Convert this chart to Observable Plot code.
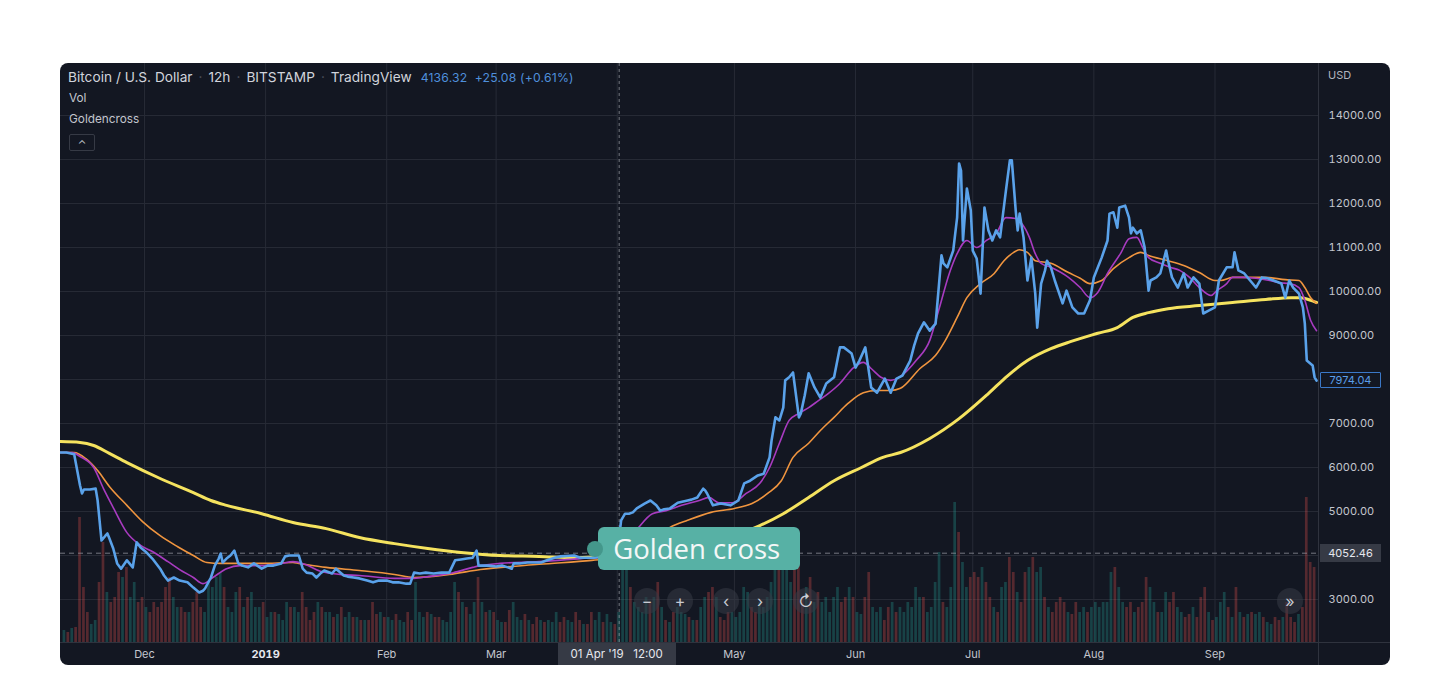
<!DOCTYPE html>
<html><head><meta charset="utf-8">
<script src="https://cdn.jsdelivr.net/npm/d3@7"></script>
<script src="https://cdn.jsdelivr.net/npm/@observablehq/plot@0.6"></script>
<style>
body{margin:0;background:#fff;width:1450px;height:693px;overflow:hidden;font-family:Inter,"Noto Sans",sans-serif}
#panel{position:absolute;left:60px;top:63px;width:1330px;height:602px;border-radius:8px;overflow:hidden;background:#131722}
#panel svg{position:absolute;left:0;top:0}
.o{position:absolute;white-space:nowrap}
.btn{position:absolute;width:26px;height:26px;border-radius:13px;background:rgba(54,58,69,0.55);color:#c8cbd3;font-size:16px;line-height:26px;text-align:center}
</style></head><body><div id="panel"></div>
<script>
// ---- price (close) series, 12h candles ----
const priceDates = ["2018-11-09T12","2018-11-11T00","2018-11-13T00","2018-11-14T12","2018-11-15T00","2018-11-15T12","2018-11-17T00","2018-11-18T12","2018-11-19T00","2018-11-20T00","2018-11-21T00","2018-11-21T12","2018-11-22T00","2018-11-23T00","2018-11-24T00","2018-11-25T00","2018-11-26T12","2018-11-28T00","2018-11-29T00","2018-11-30T00","2018-12-01T00","2018-12-01T12","2018-12-03T00","2018-12-05T00","2018-12-06T00","2018-12-07T00","2018-12-08T12","2018-12-10T00","2018-12-12T00","2018-12-13T12","2018-12-15T00","2018-12-16T00","2018-12-16T12","2018-12-18T00","2018-12-19T00","2018-12-20T00","2018-12-20T12","2018-12-21T00","2018-12-22T00","2018-12-23T00","2018-12-24T00","2018-12-25T00","2018-12-26T00","2018-12-27T12","2018-12-29T00","2018-12-31T00","2019-01-01T12","2019-01-03T00","2019-01-05T00","2019-01-06T00","2019-01-07T00","2019-01-09T12","2019-01-10T12","2019-01-11T12","2019-01-13T00","2019-01-14T00","2019-01-15T00","2019-01-16T00","2019-01-18T00","2019-01-19T00","2019-01-21T00","2019-01-22T00","2019-01-23T12","2019-01-25T00","2019-01-27T00","2019-01-28T12","2019-01-30T00","2019-02-01T00","2019-02-02T12","2019-02-04T00","2019-02-06T00","2019-02-07T00","2019-02-08T00","2019-02-09T12","2019-02-11T00","2019-02-13T00","2019-02-15T00","2019-02-17T00","2019-02-18T12","2019-02-20T00","2019-02-21T12","2019-02-23T00","2019-02-24T00","2019-02-24T12","2019-02-27T00","2019-03-01T00","2019-03-02T12","2019-03-04T00","2019-03-05T00","2019-03-05T12","2019-03-07T00","2019-03-09T00","2019-03-11T00","2019-03-12T12","2019-03-14T00","2019-03-16T00","2019-03-17T12","2019-03-21T00","2019-03-22T12","2019-03-26T00","2019-03-28T00","2019-03-30T00","2019-03-31T00","2019-04-01T00","2019-04-02T00","2019-04-03T00","2019-04-04T00","2019-04-05T00","2019-04-06T00","2019-04-08T00","2019-04-09T12","2019-04-11T00","2019-04-12T00","2019-04-13T00","2019-04-14T12","2019-04-16T12","2019-04-19T00","2019-04-20T00","2019-04-21T12","2019-04-23T00","2019-04-23T12","2019-04-24T00","2019-04-25T12","2019-04-27T12","2019-04-30T00","2019-05-02T00","2019-05-03T12","2019-05-05T00","2019-05-07T00","2019-05-08T12","2019-05-10T00","2019-05-10T12","2019-05-11T12","2019-05-12T12","2019-05-13T12","2019-05-14T00","2019-05-15T00","2019-05-16T00","2019-05-17T12","2019-05-18T00","2019-05-19T00","2019-05-20T00","2019-05-21T12","2019-05-23T00","2019-05-24T12","2019-05-26T12","2019-05-28T00","2019-05-29T00","2019-05-31T00","2019-06-01T00","2019-06-02T00","2019-06-03T12","2019-06-05T00","2019-06-06T12","2019-06-08T12","2019-06-10T00","2019-06-11T12","2019-06-13T00","2019-06-15T00","2019-06-16T00","2019-06-17T00","2019-06-18T12","2019-06-20T00","2019-06-21T12","2019-06-23T00","2019-06-23T12","2019-06-24T12","2019-06-26T00","2019-06-27T00","2019-06-27T12","2019-06-28T00","2019-06-28T12","2019-06-29T12","2019-06-30T12","2019-07-01T00","2019-07-02T00","2019-07-03T00","2019-07-04T00","2019-07-05T00","2019-07-06T00","2019-07-07T00","2019-07-08T00","2019-07-09T12","2019-07-10T12","2019-07-11T00","2019-07-12T00","2019-07-12T12","2019-07-13T00","2019-07-14T00","2019-07-15T00","2019-07-16T00","2019-07-17T00","2019-07-17T12","2019-07-18T12","2019-07-19T12","2019-07-20T00","2019-07-21T00","2019-07-22T00","2019-07-24T00","2019-07-25T00","2019-07-26T12","2019-07-28T00","2019-07-29T12","2019-07-31T00","2019-08-01T00","2019-08-03T00","2019-08-04T12","2019-08-05T00","2019-08-06T00","2019-08-07T00","2019-08-07T12","2019-08-09T00","2019-08-10T00","2019-08-10T12","2019-08-11T00","2019-08-12T00","2019-08-13T00","2019-08-14T00","2019-08-15T00","2019-08-15T12","2019-08-17T00","2019-08-18T00","2019-08-19T12","2019-08-20T00","2019-08-21T00","2019-08-22T12","2019-08-24T00","2019-08-25T00","2019-08-26T12","2019-08-28T00","2019-08-29T00","2019-08-30T12","2019-09-01T00","2019-09-02T00","2019-09-04T00","2019-09-05T12","2019-09-06T00","2019-09-07T00","2019-09-08T12","2019-09-10T00","2019-09-11T12","2019-09-13T00","2019-09-14T12","2019-09-16T00","2019-09-18T00","2019-09-19T00","2019-09-20T00","2019-09-21T00","2019-09-22T12","2019-09-23T12","2019-09-24T00","2019-09-24T12","2019-09-26T00","2019-09-26T12","2019-09-27T00"];
const priceValues = [6340,6340,6300,5590,5410,5500,5500,5520,5250,4340,4450,4500,4390,4160,3820,3700,3890,3730,4300,4180,4110,4070,3930,3700,3545,3430,3500,3430,3390,3270,3160,3200,3250,3500,3770,3930,4045,3840,3930,4000,4110,3820,3770,3730,3820,3700,3770,3770,3820,3980,4000,4000,3700,3610,3590,3500,3590,3660,3590,3700,3545,3520,3500,3480,3430,3390,3430,3430,3390,3390,3360,3360,3610,3590,3610,3590,3610,3610,3890,3910,3930,3950,4110,3770,3770,3750,3770,3730,3700,3820,3820,3840,3840,3840,3890,3950,3980,4000,3950,3950,3980,3950,4000,4045,4800,4950,4950,4980,5070,5180,5250,5140,5020,5050,5070,5200,5250,5270,5320,5520,5480,5410,5140,5180,5140,5250,5640,5700,5820,5860,6230,6610,7140,7070,7360,7980,8050,8160,7140,7230,7640,8140,7820,7590,7910,8050,8730,8730,8590,8270,8430,8730,7820,7700,8020,7700,8020,8090,8430,8770,9050,9300,9110,9270,10820,10640,10550,10930,11680,12910,12750,11160,12340,11840,10930,10750,9950,11910,11390,11160,11390,11230,12300,12980,12980,11840,11390,11770,11230,10250,10770,9950,9180,10180,10480,10700,10550,10250,9730,10020,9640,9500,9500,9800,10320,10770,11160,11770,11800,11450,11910,11950,11680,11320,11450,11320,11390,11000,10020,10250,10320,10410,10930,10700,10320,10090,10410,10090,10320,10180,9500,9570,9640,10250,10550,10550,10890,10480,10410,10250,10090,10320,10300,10250,10180,9860,10250,10090,9950,9640,9270,8430,8320,8050,7974.04];

// ---- Goldencross moving averages (fast = purple, mid = orange, slow = yellow) ----
const fastDates = ["2018-11-09T12","2018-11-12T12","2018-11-14T12","2018-11-18T00","2018-11-20T12","2018-11-23T00","2018-11-26T12","2018-11-30T00","2018-12-03T00","2018-12-07T00","2018-12-10T00","2018-12-13T12","2018-12-16T00","2018-12-18T12","2018-12-22T00","2018-12-25T12","2018-12-31T00","2019-01-05T00","2019-01-08T00","2019-01-11T00","2019-01-15T00","2019-01-20T00","2019-01-25T00","2019-02-03T00","2019-02-08T00","2019-02-11T12","2019-02-18T00","2019-02-23T00","2019-02-25T00","2019-03-02T00","2019-03-12T00","2019-03-22T12","2019-03-30T00","2019-04-02T00","2019-04-04T00","2019-04-06T12","2019-04-10T00","2019-04-13T12","2019-04-17T12","2019-04-22T00","2019-04-24T12","2019-04-27T00","2019-04-30T12","2019-05-04T00","2019-05-07T12","2019-05-10T00","2019-05-12T12","2019-05-15T00","2019-05-17T12","2019-05-20T00","2019-05-22T12","2019-05-25T00","2019-05-28T00","2019-05-31T12","2019-06-03T00","2019-06-05T00","2019-06-07T12","2019-06-10T00","2019-06-12T12","2019-06-16T12","2019-06-20T00","2019-06-22T12","2019-06-25T00","2019-06-27T00","2019-06-29T12","2019-07-02T00","2019-07-04T12","2019-07-07T00","2019-07-09T12","2019-07-12T00","2019-07-13T12","2019-07-15T12","2019-07-17T00","2019-07-18T12","2019-07-21T00","2019-07-25T12","2019-07-28T12","2019-07-31T00","2019-08-02T00","2019-08-04T12","2019-08-08T00","2019-08-10T00","2019-08-12T00","2019-08-13T12","2019-08-15T00","2019-08-18T00","2019-08-20T12","2019-08-23T00","2019-08-25T12","2019-08-28T00","2019-08-31T00","2019-09-01T12","2019-09-04T00","2019-09-05T12","2019-09-08T00","2019-09-11T12","2019-09-15T00","2019-09-17T12","2019-09-20T00","2019-09-22T12","2019-09-24T00","2019-09-25T12","2019-09-27T00"];
const fastValues = [6340,6340,6250,6000,5520,5090,4520,4230,4090,3860,3680,3500,3360,3500,3700,3770,3770,3820,3860,3800,3640,3570,3545,3480,3480,3520,3610,3730,3770,3820,3860,3930,3980,4045,4340,4640,4950,5020,5140,5250,5320,5200,5200,5410,5640,6000,6550,7070,7230,7360,7520,7680,7910,8270,8390,8250,8050,7980,8070,8430,8890,9640,10410,10860,11160,11000,11160,11320,11680,11660,11550,11230,10860,10640,10550,10320,10090,9860,9980,10410,10890,11200,11230,11000,10770,10640,10550,10480,10320,10090,9910,10020,10180,10320,10320,10300,10250,10200,10180,10090,9800,9340,9110];
const midDates = ["2018-11-09T12","2018-11-13T00","2018-11-16T00","2018-11-19T00","2018-11-22T00","2018-11-26T12","2018-11-30T12","2018-12-05T00","2018-12-09T12","2018-12-13T12","2018-12-17T00","2018-12-20T12","2018-12-31T00","2019-01-08T00","2019-01-09T12","2019-01-16T12","2019-01-25T00","2019-02-03T00","2019-02-08T00","2019-02-17T00","2019-02-25T00","2019-03-12T00","2019-03-25T12","2019-04-01T00","2019-04-07T00","2019-04-11T00","2019-04-14T12","2019-04-19T00","2019-04-25T00","2019-05-01T00","2019-05-05T12","2019-05-09T12","2019-05-13T00","2019-05-16T00","2019-05-20T00","2019-05-23T00","2019-05-26T12","2019-05-30T00","2019-06-03T00","2019-06-06T12","2019-06-10T00","2019-06-12T12","2019-06-17T12","2019-06-21T12","2019-06-24T00","2019-06-27T00","2019-06-29T12","2019-07-03T00","2019-07-06T12","2019-07-09T00","2019-07-11T12","2019-07-13T00","2019-07-15T00","2019-07-17T00","2019-07-21T00","2019-07-25T12","2019-07-28T12","2019-07-31T00","2019-08-03T00","2019-08-06T00","2019-08-10T00","2019-08-13T00","2019-08-15T00","2019-08-20T00","2019-08-24T00","2019-08-28T00","2019-09-01T00","2019-09-02T12","2019-09-05T12","2019-09-10T00","2019-09-14T00","2019-09-19T00","2019-09-22T12","2019-09-24T00","2019-09-25T12","2019-09-27T00"];
const midValues = [6340,6340,6200,5930,5570,5140,4770,4450,4200,4000,3840,3820,3820,3840,3820,3730,3660,3570,3500,3570,3680,3800,3890,3950,4230,4450,4640,4800,4980,5070,5180,5410,5700,6230,6550,6840,7140,7450,7700,7750,7750,7800,8250,8550,8890,9410,9860,10180,10410,10700,10890,10950,10890,10700,10640,10430,10300,10180,10250,10520,10770,10890,10820,10700,10590,10430,10250,10250,10320,10320,10320,10270,10250,10090,9860,9730];
const slowDates = ["2018-11-09T12","2018-11-14T12","2018-11-18T00","2018-11-22T00","2018-11-26T12","2018-12-05T00","2018-12-13T12","2018-12-18T00","2018-12-22T00","2018-12-31T00","2019-01-08T00","2019-01-16T12","2019-01-25T00","2019-02-03T00","2019-02-11T12","2019-02-20T00","2019-03-02T00","2019-03-12T00","2019-03-21T00","2019-03-28T00","2019-04-09T12","2019-04-22T00","2019-05-02T12","2019-05-07T12","2019-05-13T12","2019-05-20T00","2019-05-26T12","2019-06-02T12","2019-06-08T00","2019-06-12T12","2019-06-20T00","2019-06-27T12","2019-07-05T00","2019-07-10T00","2019-07-15T00","2019-07-21T00","2019-07-26T00","2019-08-02T00","2019-08-07T00","2019-08-11T00","2019-08-15T00","2019-08-20T00","2019-08-28T00","2019-09-05T12","2019-09-14T00","2019-09-20T12","2019-09-23T00","2019-09-25T12","2019-09-27T00"];
const slowValues = [6590,6570,6500,6320,6110,5750,5430,5250,5140,4950,4750,4610,4410,4270,4160,4070,4000,3980,3950,3980,4045,4230,4500,4680,4950,5320,5700,6000,6230,6340,6660,7110,7680,8090,8430,8700,8860,9050,9180,9410,9520,9610,9680,9750,9820,9860,9860,9800,9750];

// ---- volume, one bar per day (relative units), g = up day, r = down day ----
const volStart = "2018-11-10";
const volNov = [12,10,14,15,125,55,30,18,22,60,100,50,40,45,70,65,75,45,60,40,45];
const volDec = [35,30,40,35,40,55,65,45,35,35,30,30,40,50,35,30,60,55,65,70,55,35,30,50,55,35,45,50,35,35,40];
const volJan = [25,30,30,28,22,40,35,35,30,50,35,22,30,40,35,30,30,25,28,35,25,30,25,25,22,22,22,40,28,30,25];
const volFeb = [25,22,28,22,20,30,22,60,30,25,30,28,25,25,22,20,30,60,50,40,35,28,40,65,40,30,32,30];
const volMar = [22,20,20,32,40,25,22,28,22,18,25,22,20,22,20,30,20,25,22,20,30,22,18,18,30,22,30,20,28,20,18];
const volApr = [30,90,80,55,40,35,30,45,40,45,60,35,22,20,30,35,30,28,25,22,22,35,45,50,55,45,25,22,30,30];
const volMay = [25,30,55,50,35,30,40,35,45,60,80,75,85,90,60,95,100,45,55,65,40,50,40,45,30,45,55,40,45,55,45];
const volJun = [30,28,45,70,35,30,35,22,35,40,30,35,30,40,35,55,45,45,30,35,60,90,40,35,55,140,110,80,55,65];
const volJul = [70,65,75,60,45,35,30,55,60,85,70,50,40,70,75,85,70,75,45,35,30,40,45,40,30,28,40,30,35,30,35];
const volAug = [40,35,40,40,70,75,55,40,35,40,30,35,40,65,55,40,30,30,50,40,50,35,30,25,28,35,25,45,55,30,22];
const volSep = [25,40,50,35,25,55,30,25,28,30,28,30,25,20,18,25,22,25,40,25,20,28,35,145,80,75];
const dirNov = "grgrrrrggrrgrrrgrggrr";
const dirDec = "grrrrrrggrrgrrrgggggrgggrgrgggr";
const dirJan = "ggrgggrggrrrrgrggrgrggrgrgrrrgr";
const dirFeb = "ggrggrrgggrgrrggggrgrggrgrgr";
const dirMar = "ggrrgggrgrrgrgggrrggrrgrrggrggr";
const dirApr = "gggrggggrgrgrgrgggrgrggrrgrrrg";
const dirMay = "ggggrrgggggrgggrrrgrgrgggggrrgr";
const dirJun = "ggrrgggrrgrggggggrggggrgggrggr";
const dirJul = "rrgrrgrggrrgrrgrggrgrrrrgrrggrg";
const dirAug = "gggggrggrrgrrrggrggrrggrrgrrrgr";
const dirSep = "gggrgrgrgrggrggrrgrrrgrrrr";

// ---- axes / annotations ----
const monthTicks = ["2018-12-01","2019-01-01","2019-02-01","2019-03-01","2019-04-01","2019-05-01","2019-06-01","2019-07-01","2019-08-01","2019-09-01"];
const monthLabels = ["Dec","2019","Feb","Mar","","May","Jun","Jul","Aug","Sep"];
const gridLevels = [3000,4000,5000,6000,7000,8000,9000,10000,11000,12000,13000,14000];
const tickLevels = [3000,5000,6000,7000,9000,10000,11000,12000,13000,14000];
const lastPrice = 7974.04;
const markedPrice = 4052.46;
const crosshair = "2019-04-01T12";
const crossLabel = "01 Apr '19   12:00";
const goldenCross = {date: "2019-03-26T12", value: 4136};
const header = ["Bitcoin / U.S. Dollar", "12h", "BITSTAMP", "TradingView"];
const headerQuote = "4136.32  +25.08 (+0.61%)";

// ---- build ----
const P = d3.utcParse("%Y-%m-%dT%H"), D = d3.utcParse("%Y-%m-%d");
const series = (ds, vs) => ds.map((d, i) => ({date: P(d), value: vs[i]}));
const price = series(priceDates, priceValues);
const fast = series(fastDates, fastValues);
const mid = series(midDates, midValues);
const slow = series(slowDates, slowValues);
const vols = [].concat(volNov, volDec, volJan, volFeb, volMar, volApr, volMay, volJun, volJul, volAug, volSep);
const dirs = (dirNov + dirDec + dirJan + dirFeb + dirMar + dirApr + dirMay + dirJun + dirJul + dirAug + dirSep).split("");
const v0 = D(volStart);
const volume = vols.map((v, i) => ({date: d3.utcDay.offset(v0, i), vol: v, dir: dirs[i]}));
const months = monthTicks.map(D);

const W = 1330, H = 602, MR = 72, MB = 23;
const xDomain = [P("2018-11-09T12"), P("2019-09-27T12")];
const yDomain = [2022.7, 15181.8];
const base = {width: W, height: H, marginLeft: 0, marginRight: MR, marginTop: 0, marginBottom: MB,
  style: {background: "transparent", fontFamily: "Inter, 'Noto Sans', sans-serif", overflow: "visible"}};
const GRID = "#272b36";

const gridPlot = Plot.plot({...base,
  x: {type: "utc", domain: xDomain, axis: null}, y: {domain: yDomain, axis: null},
  marks: [
    Plot.gridX(months, {stroke: GRID, strokeOpacity: 1}),
    Plot.gridY(gridLevels, {stroke: GRID, strokeOpacity: 1})
  ]});

const volPlot = Plot.plot({...base,
  x: {type: "utc", domain: xDomain, axis: null}, y: {domain: [0, H - MB], axis: null},
  marks: [
    Plot.rectY(volume.filter(d => d.dir === "g"), {x: "date", y: "vol", interval: "day", fill: "#26a69a", fillOpacity: 0.3, insetLeft: 0.6, insetRight: 0.6}),
    Plot.rectY(volume.filter(d => d.dir === "r"), {x: "date", y: "vol", interval: "day", fill: "#ef5350", fillOpacity: 0.3, insetLeft: 0.6, insetRight: 0.6})
  ]});

const pricePlot = Plot.plot({...base,
  x: {type: "utc", domain: xDomain}, y: {domain: yDomain},
  marks: [
    Plot.ruleY([markedPrice], {stroke: "#9598a1", strokeDasharray: "5,4", strokeOpacity: 0.75}),
    Plot.ruleX([P(crosshair)], {stroke: "#9598a1", strokeDasharray: "3,3", strokeOpacity: 0.75}),
    Plot.line(slow, {x: "date", y: "value", stroke: "#f5e35f", strokeWidth: 3, curve: "monotone-x"}),
    Plot.line(mid, {x: "date", y: "value", stroke: "#f0953f", strokeWidth: 1.6, curve: "monotone-x"}),
    Plot.line(fast, {x: "date", y: "value", stroke: "#a83bc0", strokeWidth: 1.6, curve: "monotone-x"}),
    Plot.line(price, {x: "date", y: "value", stroke: "#5aa2ea", strokeWidth: 2.6, strokeLinejoin: "round"}),
    Plot.axisY(tickLevels, {anchor: "right", tickSize: 0, tickPadding: 10, tickFormat: d => d.toFixed(2), fill: "#c3c6ce", fontSize: 11, label: null}),
    Plot.axisX(months.filter((d, i) => i !== 1 && monthLabels[i]), {tickSize: 0, tickPadding: 8, tickFormat: d => monthLabels[months.findIndex(m => +m === +d)], fill: "#c3c6ce", fontSize: 11, label: null}),
    Plot.axisX([months[1]], {tickSize: 0, tickPadding: 8, tickFormat: () => monthLabels[1], fill: "#e6e8ee", fontSize: 11, fontWeight: "bold", label: null})
  ]});

const panel = document.getElementById("panel");
panel.append(gridPlot, volPlot, pricePlot);
const sx = pricePlot.scale("x"), sy = pricePlot.scale("y");

function el(cls, style, html) {
  const e = document.createElement("div");
  e.className = cls; Object.assign(e.style, style); e.innerHTML = html; panel.appendChild(e); return e;
}
// separators of the price and time scales
el("o", {left: (W - MR) + "px", top: "0px", width: "1px", height: H + "px", background: "#2f333e"}, "");
el("o", {left: "0px", top: (H - MB) + "px", width: W + "px", height: "1px", background: "#2f333e"}, "");

// header legend
const dot = '<span style="color:#50535e;margin:0 6px">·</span>';
el("o", {left: "8px", top: "5px", fontSize: "13.7px", color: "#d1d4dc", lineHeight: "19px"},
  header.join(dot) + '<span style="color:#4f8fdc;font-size:12.2px;margin-left:9px;letter-spacing:0.2px">' + headerQuote.replace("  ", "&nbsp;&nbsp;") + '</span>');
el("o", {left: "9px", top: "28px", fontSize: "11.8px", color: "#c3c6ce"}, "Vol");
el("o", {left: "9px", top: "49px", fontSize: "11.8px", color: "#c3c6ce"}, "Goldencross");
el("o", {left: "9px", top: "71px", width: "24px", height: "15px", border: "1px solid #363a45", borderRadius: "2px", color: "#c3c6ce", fontSize: "11px", textAlign: "center", lineHeight: "19px"}, "&#8963;");
el("o", {left: "1268px", top: "5px", fontSize: "11px", color: "#b2b5be"}, "USD");

// price scale labels
const yl = sy.apply(lastPrice), ym = sy.apply(markedPrice);
el("o", {left: (W - MR + 2) + "px", top: (yl - 8) + "px", width: "59px", height: "14px", border: "1px solid #3b78c8", color: "#5a9ee8", fontSize: "11px", lineHeight: "14px", textAlign: "center", borderRadius: "1px"}, lastPrice.toFixed(2));
el("o", {left: (W - MR + 2) + "px", top: (ym - 9) + "px", width: "61px", height: "18px", background: "#363a45", color: "#e6e8ee", fontSize: "11px", lineHeight: "18px", textAlign: "center"}, markedPrice.toFixed(2));

// crosshair time label
const cx = sx.apply(P(crosshair));
el("o", {left: (cx - 61) + "px", top: (H - MB + 1) + "px", width: "118px", height: "22px", background: "#363a45", color: "#e6e8ee", fontSize: "11.5px", lineHeight: "22px", textAlign: "center"}, crossLabel.replace(/ /g, "&nbsp;"));

// navigation buttons
const by = 525;
[["&minus;", 574], ["+", 607], ["&#8249;", 653], ["&#8250;", 687], ["&#8635;", 733], ["&raquo;", 1217]].forEach(([g, x]) => {
  el("btn", {left: x + "px", top: by + "px"}, g);
});

// golden cross marker + label
const gx = sx.apply(P(goldenCross.date)), gy = sy.apply(goldenCross.value);
el("o", {left: (gx + 3) + "px", top: (gy - 22) + "px", width: "202px", height: "43px", background: "#57b1a5", borderRadius: "6px", color: "#f4f7f7", fontSize: "27.5px", lineHeight: "43px", paddingLeft: "15px", boxSizing: "border-box", fontFamily: "'Open Sans', 'Noto Sans', sans-serif"}, "Golden cross");
el("o", {left: (gx - 8) + "px", top: (gy - 8) + "px", width: "16px", height: "16px", borderRadius: "8px", background: "#44978b"}, "");
</script></body></html>
